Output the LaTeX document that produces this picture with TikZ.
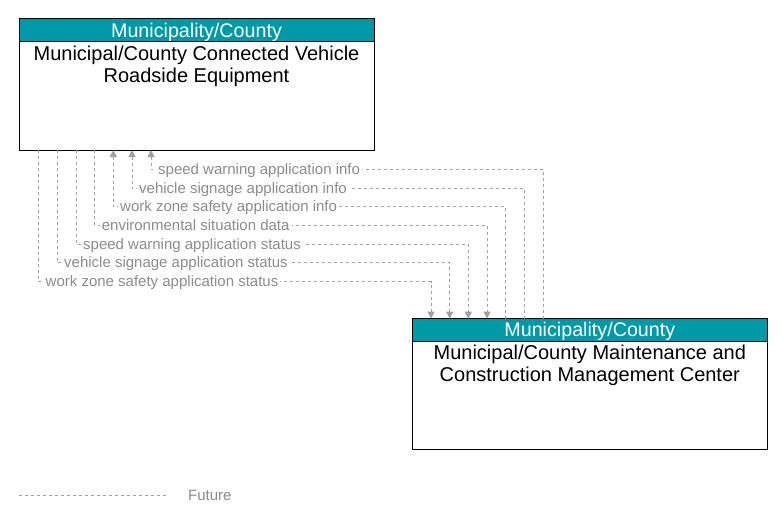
\documentclass[tikz,border=0pt]{standalone}
\usepackage{fontspec}
\setmainfont{Liberation Sans}
\usetikzlibrary{arrows.meta,positioning}
\definecolor{headteal}{HTML}{0099A8}
\definecolor{flowgray}{HTML}{A0A0A0}
\definecolor{labelgray}{HTML}{8C8C8C}
\tikzset{
	headbar/.style={draw=black, line width=1pt, fill=headteal, text=white, minimum width=355pt, minimum height=23pt, inner sep=0pt, outer sep=0pt, font=\fontsize{19.7}{22}\selectfont, text height=13.5pt, text depth=0pt},
	elembox/.style={draw=black, line width=1pt, minimum width=355pt, minimum height=131pt, inner sep=0pt, outer sep=0pt},
	elemtext/.style={align=center, inner sep=4pt, font=\fontsize{20}{21.7}\selectfont},
	flow/.style={draw=flowgray, line width=1pt, dash pattern=on 3pt off 3pt},
	tipin/.style={{Triangle[width=7pt,length=7pt]}-},
	tipout/.style={-{Triangle[width=7pt,length=7pt]}},
	flowlabel/.style={fill=white, text=labelgray, inner sep=2pt, anchor=base west, font=\fontsize{15}{16}\selectfont}
}
\begin{document}
\begin{tikzpicture}[x=1pt, y=-1pt]
		%%%%% FRAME %%%%%
		\useasboundingbox (0,0) rectangle (783,524);
		
		%%%%% ELEMENTS %%%%%
		\node[headbar, anchor=north west] (rsehead) at (19,19) {Municipality/County};
		\node[elembox, anchor=north west] (rse) at (19,19) {};
		\node[elemtext, below=0pt of rsehead] (rsetext) {Municipal/County Connected Vehicle\\Roadside Equipment};
		
		\node[headbar, anchor=north west, minimum height=22.6pt] (mcmhead) at (412.3,318.7) {Municipality/County};
		\node[elembox, anchor=north west, minimum height=130.3pt] (mcm) at (412.3,318.7) {};
		\node[elemtext, below=0pt of mcmhead] (mcmtext) {Municipal/County Maintenance and\\Construction Management Center};
		
		%%%%% FLOWS %%%%%
		\draw[flow, tipin] ([xshift=132pt]rse.south west) |- (300,169.3) -| ([xshift=131.4pt]mcm.north west);
		\draw[flow, tipin] ([xshift=113pt]rse.south west) |- (300,188.3) -| ([xshift=112.4pt]mcm.north west);
		\draw[flow, tipin] ([xshift=94.3pt]rse.south west) |- (300,206.7) -| ([xshift=93.4pt]mcm.north west);
		\draw[flow, tipout] ([xshift=75.7pt]rse.south west) |- (300,225) -| ([xshift=74.7pt]mcm.north west);
		\draw[flow, tipout] ([xshift=57pt]rse.south west) |- (300,244.3) -| ([xshift=56pt]mcm.north west);
		\draw[flow, tipout] ([xshift=38pt]rse.south west) |- (300,262.7) -| ([xshift=37.4pt]mcm.north west);
		\draw[flow, tipout] ([xshift=19pt]rse.south west) |- (300,281.7) -| ([xshift=18.7pt]mcm.north west);
		
		\node[flowlabel] (swinfo) at (156,174.3) {speed warning application info};
		\node[flowlabel] (vsinfo) at (137,193.3) {vehicle signage application info};
		\node[flowlabel] (wzinfo) at (118,211.7) {work zone safety application info};
		\node[flowlabel] (envdata) at (99.7,230) {environmental situation data};
		\node[flowlabel] (swstatus) at (81,249.3) {speed warning application status};
		\node[flowlabel] (vsstatus) at (62,267.7) {vehicle signage application status};
		\node[flowlabel] (wzstatus) at (43.5,286.7) {work zone safety application status};
		
		%%%%% LEGEND %%%%%
		\coordinate (futA) at (19,495);
		\coordinate (futB) at (166,495);
		\draw[flow] (futA) -- (futB);
		\node[flowlabel] (futlabel) at (186,500) {Future};
		
		%%%%% END %%%%%
	\end{tikzpicture}
\end{document}
